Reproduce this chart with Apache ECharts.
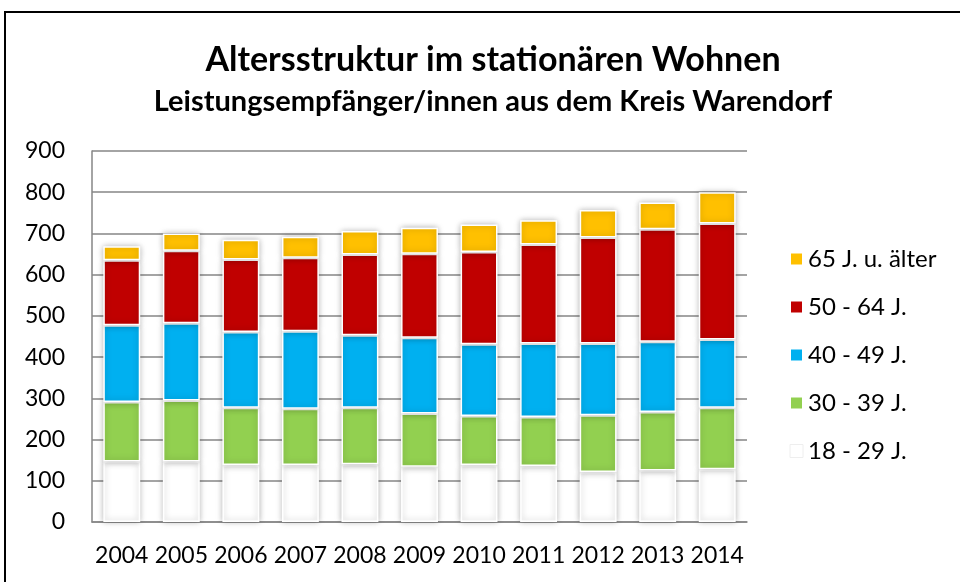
<!DOCTYPE html>
<html>
<head>
<meta charset="utf-8">
<script src="https://cdn.jsdelivr.net/npm/echarts@6/dist/echarts.min.js"></script>
<style>
  html, body { margin: 0; padding: 0; background: #fff; overflow: hidden; }
  #frame { position: absolute; left: 4px; top: 11px; width: 1000px; height: 620px; border: 2px solid #000; }
  #chart { position: absolute; left: 0; top: 0; width: 960px; height: 582px; }
</style>
</head>
<body>
<div id="frame"></div>
<div id="chart"></div>
<script>
const years = ['2004', '2005', '2006', '2007', '2008', '2009', '2010', '2011', '2012', '2013', '2014'];
const age18to29 = [147, 147, 138, 138, 140, 134, 138, 136, 121, 125, 128];
const age30to39 = [144, 148, 139, 137, 137, 129, 119, 119, 138, 142, 149];
const age40to49 = [186, 187, 184, 188, 176, 184, 174, 178, 174, 170, 166];
const age50to64 = [158, 176, 176, 178, 196, 204, 224, 240, 257, 273, 281];
const age65plus = [34, 42, 48, 51, 57, 63, 67, 59, 67, 65, 76];
const yTicks = { min: 0, max: 900, step: 100 };

const font = 'Lato, "Open Sans", sans-serif';

function bar(name, data, color) {
  return {
    name: name,
    type: 'bar',
    stack: 'total',
    barWidth: '62%',
    data: data,
    itemStyle: {
      color: color,
      borderColor: '#fff',
      borderWidth: 1.5,
      shadowColor: 'rgba(0,0,0,0.28)',
      shadowBlur: 6
    }
  };
}

const chart = echarts.init(document.getElementById('chart'));
chart.setOption({
  backgroundColor: 'transparent',
  animation: false,
  title: {
    text: 'Altersstruktur im stationären Wohnen',
    subtext: 'Leistungsempfänger/innen aus dem Kreis Warendorf',
    left: 488,
    textAlign: 'center',
    top: 38,
    itemGap: 10,
    textStyle: { fontFamily: font, fontSize: 34, fontWeight: 'bold', color: '#000' },
    subtextStyle: { fontFamily: font, fontSize: 29, fontWeight: 'bold', color: '#000' }
  },
  legend: {
    orient: 'vertical',
    left: 784,
    top: 242,
    itemWidth: 13,
    itemHeight: 13,
    itemGap: 24,
    icon: 'rect',
    data: [
      '65 J. u. älter', '50 - 64 J.', '40 - 49 J.', '30 - 39 J.',
      { name: '18 - 29 J.', itemStyle: { borderColor: '#eeeeee', borderWidth: 1 } }
    ],
    textStyle: { fontFamily: font, fontSize: 24, color: '#000', lineHeight: 24 }
  },
  grid: { left: 92, right: 213, top: 151, bottom: 60 },
  xAxis: {
    type: 'category',
    data: years,
    axisLine: { lineStyle: { color: '#868686', width: 1.5 } },
    axisTick: { show: false },
    axisLabel: { interval: 0, margin: 22, fontFamily: font, fontSize: 23, color: '#000' }
  },
  yAxis: {
    type: 'value',
    min: yTicks.min,
    max: yTicks.max,
    interval: yTicks.step,
    axisLine: { show: true, lineStyle: { color: '#868686', width: 1.5 } },
    axisTick: { show: false },
    splitLine: { lineStyle: { color: '#868686', width: 1.5 } },
    axisLabel: { margin: 27, fontFamily: font, fontSize: 23, color: '#000' }
  },
  series: [
    bar('18 - 29 J.', age18to29, '#FFFFFF'),
    bar('30 - 39 J.', age30to39, '#92D050'),
    bar('40 - 49 J.', age40to49, '#00B0F0'),
    bar('50 - 64 J.', age50to64, '#C00000'),
    bar('65 J. u. älter', age65plus, '#FFC000')
  ]
});
</script>
</body>
</html>
